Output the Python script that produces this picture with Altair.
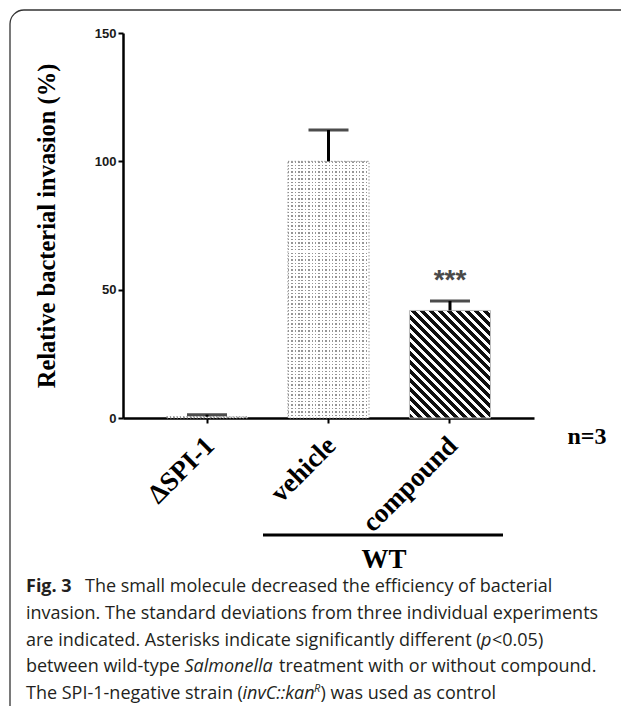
import altair as alt
import pandas as pd

# ---------------- data ----------------
categories = ["ΔSPI-1", "vehicle", "compound"]
means = [0.5, 100.0, 41.9]
sds = [0.8, 12.2, 3.7]
y_ticks = [0, 50, 100, 150]
y_title = "Relative bacterial invasion (%)"
sig_label = "***"
n_label = "n=3"
group_label = "WT"

# caption segments: text, x, baseline y (plot coords), style
cap_text = [
    "Fig. 3",
    "The small molecule decreased the efficiency of bacterial",
    "invasion. The standard deviations from three individual experiments",
    "are indicated. Asterisks indicate significantly different (",
    "p",
    "<0.05)",
    "between wild-type",
    "Salmonella",
    "treatment with or without compound.",
    "The SPI-1-negative strain (",
    "invC::kan",
    "R",
    ")",
    "was used as control",
]
cap_x = [-97, -38, -97, -97, 358, 369, -97, 61.5, 156, -97, 119.5, 191, 197.5, 207.5]
cap_y = [559, 559, 586, 613, 613, 613, 639, 639, 639, 666, 666, 659, 666, 666]
cap_style = ["bold", "normal", "normal", "normal", "italic", "normal", "normal",
             "italic", "normal", "normal", "italic", "sup", "normal", "normal"]

W, H = 411, 385
P_IN, P_OUT = 0.333, 0.358

df = pd.DataFrame({"group": categories, "mean": means, "sd": sds})
df["upper"] = df["mean"] + df["sd"]

x_enc = alt.X(
    "group:N", sort=categories,
    scale=alt.Scale(paddingInner=P_IN, paddingOuter=P_OUT),
    axis=alt.Axis(
        title=None, labelAngle=-45, labelAlign="right", labelBaseline="top",
        labelFont="Liberation Serif", labelFontSize=27, labelFontWeight="bold",
        labelColor="black", labelPadding=9, labelOffset=-6,
        tickSize=5, tickWidth=2, tickColor="black",
        domainColor="black", domainWidth=2.5, grid=False,
    ),
)
y_scale = alt.Scale(domain=[0, 150], nice=False, zero=True)
y_axis = alt.Axis(
    values=y_ticks, title=y_title, titleFont="Liberation Serif", titleFontSize=24.5,
    titleFontWeight="bold", titleColor="black", titleX=-76, titleY=192.5,
    titleAlign="center", titleBaseline="middle", titleAngle=270,
    labelFont="Liberation Sans", labelFontWeight="bold", labelFontSize=13,
    labelColor="#1a1a1a", labelPadding=2, tickSize=5, tickWidth=2, tickColor="black",
    domainColor="black", domainWidth=2.5, grid=False,
)
y_mean = alt.Y("mean:Q", scale=y_scale, axis=y_axis)

# ---------- fill styles ----------
step = W / (len(categories) - P_IN + 2 * P_OUT)
bw = step * (1 - P_IN)

def stripes(n, frac, c_on, c_off):
    st = []
    for k in range(n):
        a = k / n
        b = (k + frac) / n
        c = (k + 1) / n
        st += [alt.GradientStop(offset=a, color=c_on), alt.GradientStop(offset=b, color=c_on),
               alt.GradientStop(offset=b, color=c_off), alt.GradientStop(offset=c, color=c_off)]
    return st

dot_cols = alt.LinearGradient(gradient="linear", x1=0, y1=0, x2=1, y2=0,
                              stops=stripes(24, 0.42, "#959595", "#ffffff"))
dot_rows = alt.LinearGradient(gradient="linear", x1=0, y1=0, x2=0, y2=1,
                              stops=stripes(76, 0.40, "rgba(255,255,255,0)", "#ffffff"))

comp_h = means[2] / 150 * H
kk = (bw + comp_h) / (bw ** 2 + comp_h ** 2)
hatch = alt.LinearGradient(gradient="linear", x1=0, y1=1, x2=kk * bw, y2=1 - kk * comp_h,
                           stops=stripes(21, 0.55, "#111111", "#ffffff"))

base = alt.Chart(df)
dotted = base.transform_filter(alt.datum.group != "compound")
comp = base.transform_filter(alt.datum.group == "compound")

bar_dots_a = dotted.mark_bar(fill=dot_cols, strokeWidth=0).encode(x=x_enc, y=y_mean)
bar_dots_b = dotted.mark_bar(fill=dot_rows, stroke="#8c8c8c", strokeWidth=1,
                             strokeDash=[1.3, 2]).encode(x=x_enc, y=y_mean)
bar_hatch = comp.mark_bar(fill=hatch, stroke="#bbbbbb", strokeWidth=1).encode(x=x_enc, y=y_mean)

err = base.mark_rule(color="black", strokeWidth=3).encode(x=x_enc, y=y_mean, y2="upper:Q")
cap = base.mark_tick(color="black", size=40, thickness=3).encode(
    x=x_enc, y=alt.Y("upper:Q", scale=y_scale, axis=y_axis))
stars = comp.mark_text(font="Liberation Sans", fontWeight="bold", fontSize=28,
                       color="#4a4a4a", dy=-20, baseline="middle").encode(
    x=x_enc, y=alt.Y("upper:Q", scale=y_scale, axis=y_axis), text=alt.value(sig_label))

one = pd.DataFrame({"a": [0]})
anno = alt.Chart(one)

frame = anno.mark_rect(cornerRadius=14, stroke="#333333", strokeWidth=1.3,
                       fill="white", fillOpacity=0).encode(
    x=alt.value(-113), x2=alt.value(540), y=alt.value(-23), y2=alt.value(690))

n_text = anno.mark_text(font="Liberation Serif", fontWeight="bold", fontSize=24,
                        color="black", align="center", baseline="middle").encode(
    x=alt.value(464), y=alt.value(404), text=alt.value(n_label))
wt_line = anno.mark_rule(color="black", strokeWidth=3).encode(
    x=alt.value(140), x2=alt.value(380), y=alt.value(502))
wt_text = anno.mark_text(font="Liberation Serif", fontWeight="bold", fontSize=27,
                         color="black", align="center", baseline="alphabetic").encode(
    x=alt.value(261), y=alt.value(535), text=alt.value(group_label))

cap_layers = []
for t, cx, cy, s in zip(cap_text, cap_x, cap_y, cap_style):
    kw = dict(font="Open Sans", fontSize=18, color="#231f20", align="left",
              baseline="alphabetic")
    if s == "bold":
        kw["fontWeight"] = "bold"
    if s == "italic":
        kw["fontStyle"] = "italic"
    if s == "sup":
        kw["fontStyle"] = "italic"
        kw["fontSize"] = 11
    cap_layers.append(anno.mark_text(**kw).encode(
        x=alt.value(cx), y=alt.value(cy), text=alt.value(t)))

chart = alt.layer(
    bar_dots_a, bar_dots_b, bar_hatch, err, cap, stars,
    frame, n_text, wt_line, wt_text, *cap_layers
).properties(
    width=W, height=H,
    autosize=alt.AutoSizeParams(type="none"),
    padding={"left": 115, "top": 25, "right": 87, "bottom": 288},
).configure_view(stroke="transparent")

chart.save("out.html", embed_options={"renderer": "svg", "actions": False})
